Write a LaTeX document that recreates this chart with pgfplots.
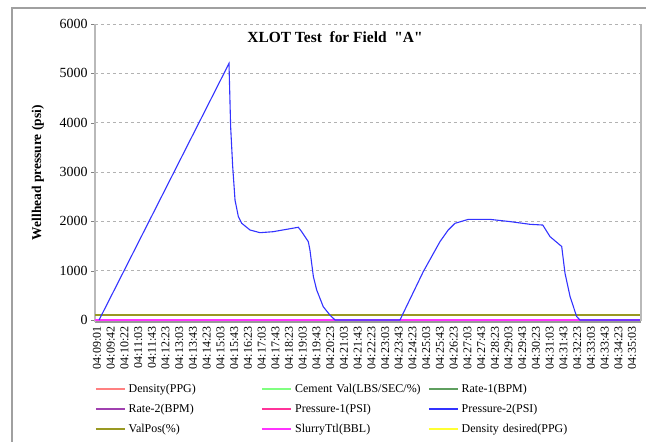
\documentclass[border=0pt]{standalone}
\usepackage{fontspec}
\setmainfont{Liberation Serif}
\usepackage{pgfplots}
\pgfplotsset{compat=1.18}
\newcommand{\sq}{\XeTeXglyph\the\XeTeXglyphindex "quotedbl"\relax}
\definecolor{cDens}{HTML}{FF8080}
\definecolor{cCem}{HTML}{80FF80}
\definecolor{cRate1}{HTML}{5F9F5F}
\definecolor{cRate2}{HTML}{A040B0}
\definecolor{cP1}{HTML}{FF3399}
\definecolor{cP2}{HTML}{3333FF}
\definecolor{cVal}{HTML}{999922}
\definecolor{cSlur}{HTML}{FF33FF}
\definecolor{cDD}{HTML}{FFFF33}
\definecolor{frame}{HTML}{A0A0A0}
\begin{document}
\begin{tikzpicture}
\useasboundingbox (0bp,0bp) rectangle (646bp,442bp);
\draw[frame, line width=1.2bp] (12bp,0bp) -- (12bp,434bp) -- (646bp,434bp);
\begin{axis}[
  at={(95bp,120.5bp)}, anchor=south west,
  scale only axis, width=546bp, height=297.5bp,
  xmin=-0.146, xmax=39.65, ymin=-30, ymax=6000,
  axis x line*=bottom, axis y line*=left,
  x axis line style={draw=gray!80, line width=3bp},
  y axis line style={draw=gray!55, line width=1.2bp},
  ytick={0,1000,2000,3000,4000,5000,6000},
  ymajorgrids, grid style={gray!60, dashed, line width=0.6bp},
  tick align=outside, major tick length=4bp,
  ytick style={gray}, xtick style={draw=none},
  yticklabel style={font=\fontsize{14}{14}\selectfont, /pgf/number format/assume math mode=true, /pgf/number format/1000 sep={}},
  xtick={0,...,39},
  xticklabels={04:09:01,04:09:42,04:10:22,04:11:03,04:11:43,04:12:23,04:13:03,04:13:43,04:14:23,04:15:03,04:15:43,04:16:23,04:17:03,04:17:43,04:18:23,04:19:03,04:19:43,04:20:23,04:21:03,04:21:43,04:22:23,04:23:03,04:23:43,04:24:23,04:25:03,04:25:43,04:26:23,04:27:03,04:27:43,04:28:23,04:29:03,04:29:43,04:30:23,04:31:03,04:31:43,04:32:23,04:33:03,04:33:43,04:34:23,04:35:03},
  xticklabel style={rotate=90, anchor=east, font=\fontsize{12}{12}\selectfont, inner sep=1bp},
  ylabel={\textbf{Wellhead pressure (psi)}},
  every axis y label/.style={at={(axis description cs:-0.1044,0.5)}, rotate=90, anchor=center, font=\fontsize{13.5}{13.5}\selectfont},
  title={\textbf{XLOT Test\ \ for Field\ \ \sq A\sq}},
  every axis title/.style={at={(axis description cs:0.4396,0.956)}, anchor=center, font=\fontsize{15.5}{15.5}\selectfont},
  legend columns=3,
  legend cell align=left,
  legend image code/.code={\draw[#1] (0bp,0bp) -- (29bp,0bp);},
  legend style={at={(axis description cs:-0.0055,-0.2)}, anchor=north west,
    draw=none, fill=none, font=\fontsize{12}{12}\selectfont,
    row sep=8bp,
    nodes={inner xsep=3bp, inner ysep=0pt, text height=9bp, text depth=3bp},
    /tikz/every even column/.append style={text width=130bp, align=left}},
]
\addlegendimage{cDens, line width=1.5bp}
\addlegendentry{Density(PPG)}
\addlegendimage{cCem, line width=1.5bp}
\addlegendentry{Cement Val(LBS/SEC/\%)}
\addlegendimage{cRate1, line width=1.5bp}
\addlegendentry{Rate-1(BPM)}
\addlegendimage{cRate2, line width=1.5bp}
\addlegendentry{Rate-2(BPM)}
\addlegendimage{cP1, line width=1.5bp}
\addlegendentry{Pressure-1(PSI)}
\addlegendimage{cP2, line width=1.5bp}
\addlegendentry{Pressure-2(PSI)}
\addlegendimage{cVal, line width=1.5bp}
\addlegendentry{ValPos(\%)}
\addlegendimage{cSlur, line width=1.5bp}
\addlegendentry{SlurryTtl(BBL)}
\addlegendimage{cDD, line width=1.5bp}
\addlegendentry{Density desired(PPG)}
% zero-valued series
\addplot[forget plot, cDD, line width=1.5bp] coordinates {(-0.146,0) (39.65,0)};
\addplot[forget plot, cDens, line width=1.5bp] coordinates {(-0.146,0) (39.65,0)};
\addplot[forget plot, cP1, line width=2bp] coordinates {(-0.146,10) (39.65,10)};
\addplot[forget plot, cSlur, line width=1.2bp] coordinates {(-0.146,0) (39.65,0)};
% ValPos
\addplot[forget plot, cVal, line width=1.2bp] coordinates {(-0.146,100) (39.65,100)};
% Pressure-2
\addplot[forget plot, cP2, line width=1.1bp] coordinates {
(0.15,0) (9.62,5200) (9.74,3920) (9.89,3110) (10.06,2430) (10.30,2100)
(10.55,1960) (11.15,1825) (11.88,1770) (12.83,1790) (14.67,1880) (14.92,1790)
(15.40,1590) (15.52,1420) (15.77,880) (16.01,610) (16.49,270) (16.98,100)
(17.35,0) (22.08,0) (23.78,980) (25.0,1590) (25.6,1825) (26.09,1960)
(27.06,2040) (28.64,2040) (30.10,1995) (31.56,1940) (32.49,1925) (33.02,1690)
(33.87,1490) (34.11,950) (34.48,475) (34.96,70) (35.20,0) (39.65,0)};
\end{axis}
\draw[gray!55, line width=1.2bp] (641bp,120.5bp) -- (641bp,418bp);
\end{tikzpicture}
\end{document}
